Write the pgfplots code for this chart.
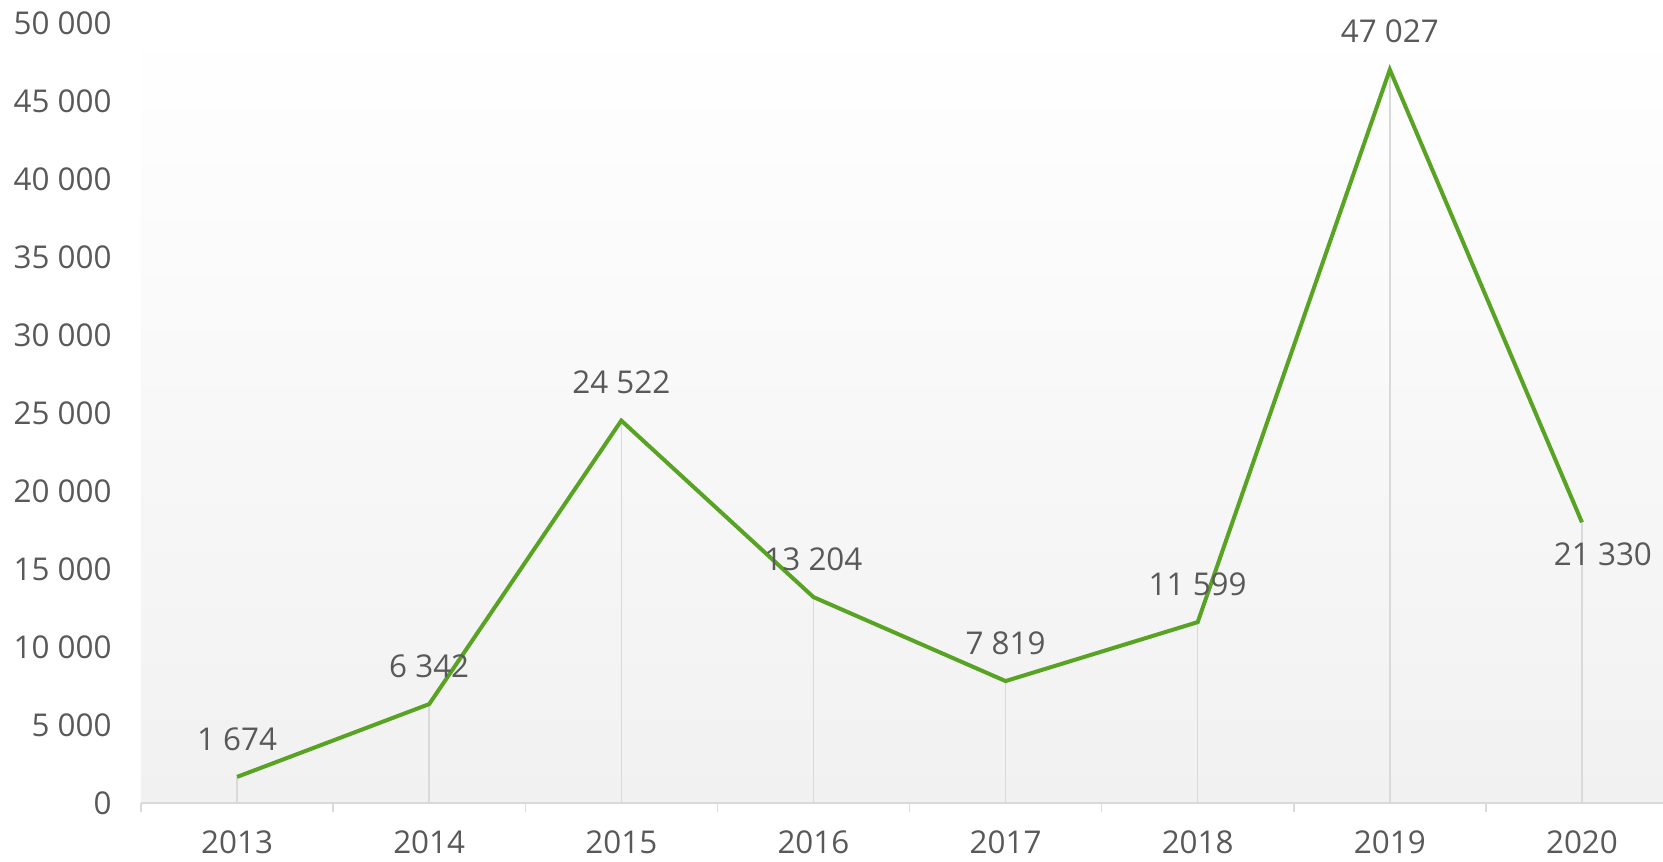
\documentclass[border=0pt]{standalone}
\usepackage{pgfplots}
\pgfplotsset{compat=1.18}
\usepackage{fontspec}
\setmainfont{Open Sans}
\usetikzlibrary{calc}
\definecolor{txt}{HTML}{595959}
\definecolor{grn}{HTML}{58A323}
\definecolor{gridc}{HTML}{D9D9D9}
\definecolor{bgb}{HTML}{F1F1F1}
\newcommand{\lblfont}{\fontsize{15.7}{18}\selectfont}
\begin{document}
\begin{tikzpicture}
\begin{axis}[
  scale only axis, width=768.5pt, height=389.85pt,
  xmin=-0.5, xmax=7.5, ymin=0, ymax=50000,
  clip=false,
  axis x line*=bottom, axis y line*=left,
  x axis line style={draw=gridc, line width=0.75pt},
  y axis line style={draw=none},
  axis background/.style={top color=white, bottom color=bgb},
  xtick={0,...,7},
  xticklabels={2013,2014,2015,2016,2017,2018,2019,2020},
  minor xtick={-0.5,0.5,1.5,2.5,3.5,4.5,5.5,6.5,7.5},
  major tick length=0pt, minor tick length=4.5pt, tick align=outside,
  minor x tick style={draw=gridc, line width=0.75pt},
  ytick={0,5000,...,50000},
  ytick style={draw=none},
  scaled y ticks=false,
  yticklabel style={/pgf/number format/fixed, /pgf/number format/1000 sep={\ }, /pgf/number format/assume math mode=true},
  tick label style={font=\lblfont, text=txt, inner sep=0pt},
  yticklabel style={anchor=east, xshift=-14.5pt},
  xticklabel style={anchor=north, yshift=-13.5pt},
]
\coordinate (O) at (rel axis cs:0,0);
\addplot[gridc, line width=0.8pt, ycomb, no markers] table {
x y
0 1674
1 6342
2 24522
3 13204
4 7819
5 11599
6 47027
7 18000
};
\addplot[grn, line width=2pt, no markers] table {
x y
0 1674
1 6342
2 24522
3 13204
4 7819
5 11599
6 47027
7 18000
};
\addplot[draw=none, no markers, nodes near coords, point meta=explicit symbolic,
  nodes near coords style={anchor=south, inner sep=0pt, yshift=13pt, font=\lblfont, text=txt}]
  table[col sep=comma, row sep=\\, meta=label] {
x,y,label\\
0,1674,1 674\\
1,6342,6 342\\
2,24522,24 522\\
3,13204,13 204\\
4,7819,7 819\\
5,11599,11 599\\
6,47027,47 027\\
};
\addplot[draw=none, no markers, nodes near coords, point meta=explicit symbolic,
  nodes near coords style={anchor=north, inner sep=0pt, yshift=-10pt, xshift=10.5pt, font=\lblfont, text=txt}]
  table[col sep=comma, row sep=\\, meta=label] {
x,y,label\\
7,18000,21 330\\
};
\end{axis}
\pgfresetboundingbox
\path[use as bounding box] ($(O)+(-70.5pt,-29pt)$) rectangle ($(O)+(761pt,401.5pt)$);
\end{tikzpicture}
\end{document}
